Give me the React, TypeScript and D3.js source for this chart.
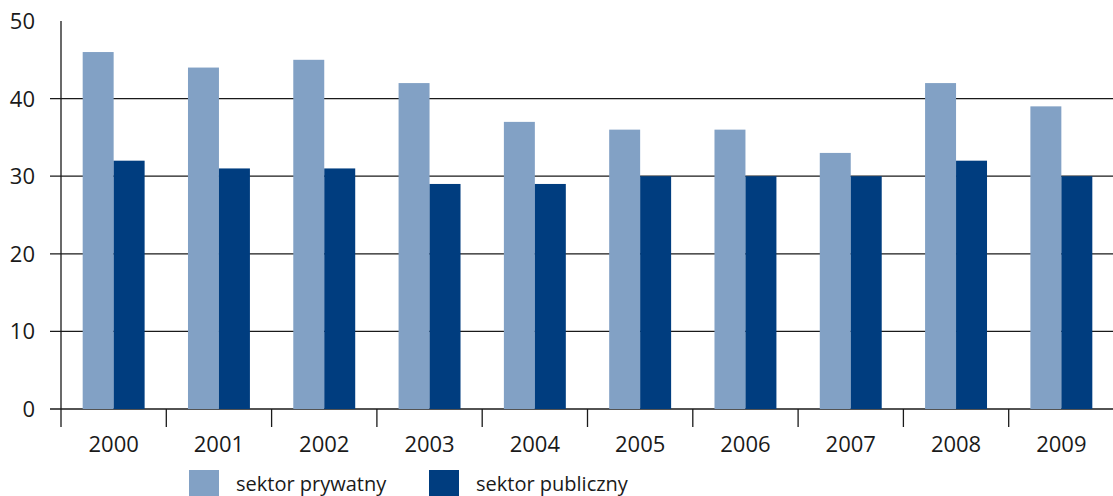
import * as d3 from 'd3'

const YEARS = ['2000', '2001', '2002', '2003', '2004', '2005', '2006', '2007', '2008', '2009']
const PRIVATE = [46, 44, 45, 42, 37, 36, 36, 33, 42, 39]
const PUBLIC = [32, 31, 31, 29, 29, 30, 30, 30, 32, 30]
const SERIES = ['sektor prywatny', 'sektor publiczny']
const Y_TICKS = [0, 10, 20, 30, 40, 50]

const W = 1113
const H = 496
const COLORS = ['#82a1c5', '#003d7f']
const FONT = '"Open Sans", sans-serif'

export default function App() {
  const x = d3.scaleBand<string>(YEARS, [61, 1114])
  const sub = d3.scaleBand<string>(SERIES, [0, x.bandwidth()]).paddingOuter(0.7)
  const y = d3.scaleLinear([0, 50], [409, 21])
  const values = [PRIVATE, PUBLIC]

  return (
    <div style={{ position: 'fixed', left: 0, top: 0 }}>
      <svg width={W} height={H} style={{ display: 'block', background: '#fff' }} fontFamily={FONT}>
        {/* grid lines + y labels */}
        {Y_TICKS.map(t => (
          <g key={t}>
            {t < 50 && (
              <line x1={50} x2={W} y1={y(t)} y2={y(t)} stroke="#1a1a1a" strokeWidth={1.3} />
            )}
            <text x={35} y={y(t)} dy="0.36em" textAnchor="end" fontSize={22} fill="#1a1a1a">
              {t}
            </text>
          </g>
        ))}

        {/* bars */}
        {values.map((vals, si) =>
          YEARS.map((yr, i) => (
            <rect
              key={`${si}-${yr}`}
              x={x(yr)! + sub(SERIES[si])!}
              y={y(vals[i])}
              width={sub.bandwidth()}
              height={y(0) - y(vals[i])}
              fill={COLORS[si]}
            />
          ))
        )}

        {/* y axis line */}
        <line x1={61} x2={61} y1={21} y2={409} stroke="#1a1a1a" strokeWidth={1.3} />

        {/* x ticks + labels */}
        {YEARS.map(yr => (
          <g key={yr}>
            <line x1={x(yr)!} x2={x(yr)!} y1={409} y2={427} stroke="#1a1a1a" strokeWidth={1.3} />
            <text x={x(yr)! + x.bandwidth() / 2} y={452} textAnchor="middle" fontSize={22} fill="#1a1a1a">
              {yr}
            </text>
          </g>
        ))}

        {/* legend */}
        {SERIES.map((s, i) => (
          <g key={s} transform={`translate(${[189, 429][i]},470)`}>
            <rect width={30} height={30} fill={COLORS[i]} />
            <text x={47} y={21} fontSize={20} fill="#1a1a1a">
              {s}
            </text>
          </g>
        ))}
      </svg>
    </div>
  )
}
